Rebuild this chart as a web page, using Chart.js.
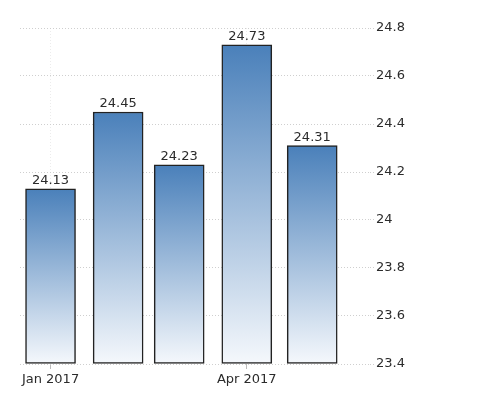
<!DOCTYPE html>
<html>
<head>
<meta charset="utf-8">
<script src="https://cdn.jsdelivr.net/npm/chart.js@4.4.1/dist/chart.umd.min.js"></script>
<style>
  html, body { margin: 0; padding: 0; background: #fff; }
  #wrap { width: 484px; height: 420px; }
</style>
</head>
<body>
<div id="wrap"><canvas id="chart"></canvas></div>
<script>
const months = ['2017-01-01', '2017-02-01', '2017-03-01', '2017-04-01', '2017-05-01'];
const values = [24.13, 24.45, 24.23, 24.73, 24.31];
const xTickDates = ['2017-01-01', '2017-04-01'];
const xTickLabels = ['Jan 2017', 'Apr 2017'];
const yTicks = [23.4, 23.6, 23.8, 24, 24.2, 24.4, 24.6, 24.8];

const FONT = "'DejaVu Sans', sans-serif";

// days since the first month, so bars sit on a real time spacing
function dayOf(s) {
  return (Date.parse(s) - Date.parse(months[0])) / 86400000;
}

const points = months.map((m, i) => ({ x: dayOf(m), y: values[i] }));

function barFill(ctx) {
  const chart = ctx.chart;
  const area = chart.chartArea;
  if (!area || ctx.type !== 'data') return '#4a80ba';
  const top = chart.scales.y.getPixelForValue(ctx.parsed.y);
  const g = chart.ctx.createLinearGradient(0, top, 0, area.bottom);
  g.addColorStop(0, '#4a80ba');
  g.addColorStop(1, '#f5f8fc');
  return g;
}

new Chart(document.getElementById('chart'), {
  type: 'bar',
  data: {
    datasets: [{
      data: points,
      base: yTicks[0],
      backgroundColor: barFill,
      borderColor: '#222',
      borderWidth: 1.5,
      borderSkipped: false,
      barThickness: 50,
      clip: false
    }]
  },
  options: {
    responsive: true,
    maintainAspectRatio: false,
    animation: false,
    layout: { padding: { top: 28, left: 20, right: 0, bottom: 0 } },
    plugins: {
      legend: { display: false },
      tooltip: { enabled: false }
    },
    scales: {
      x: {
        type: 'linear',
        offset: false,
        min: -14,
        max: 146.5,
        afterBuildTicks(scale) {
          scale.ticks = xTickDates.map(d => ({ value: dayOf(d) }));
        },
        afterFit(scale) { scale.height = 56; },
        grid: {
          offset: false,
          color: '#ececec',
          tickColor: '#bbb',
          tickLength: 5,
          tickBorderDash: []
        },
        border: { display: false, dash: [1, 2] },
        ticks: {
          padding: 3,
          color: '#2b2b2b',
          font: { family: FONT, size: 13 },
          maxRotation: 0,
          callback(v) {
            const i = xTickDates.findIndex(d => dayOf(d) === v);
            return i >= 0 ? xTickLabels[i] : '';
          }
        }
      },
      y: {
        position: 'right',
        min: yTicks[0],
        max: yTicks[yTicks.length - 1],
        afterBuildTicks(scale) {
          scale.ticks = yTicks.map(v => ({ value: v }));
        },
        afterFit(scale) { scale.width = 114; },
        grid: {
          color: '#cfcfcf',
          tickColor: '#cfcfcf',
          tickLength: 6,
          tickBorderDash: [1, 2]
        },
        border: { display: false, dash: [1, 2] },
        ticks: {
          padding: 0,
          color: '#2b2b2b',
          font: { family: FONT, size: 13 },
          callback(v) { return String(Number(v.toFixed(1))); }
        }
      }
    }
  },
  plugins: [{
    id: 'valueLabels',
    afterDatasetsDraw(chart) {
      const { ctx } = chart;
      ctx.save();
      ctx.font = "13px " + FONT;
      ctx.fillStyle = '#2b2b2b';
      ctx.textAlign = 'center';
      ctx.textBaseline = 'alphabetic';
      chart.getDatasetMeta(0).data.forEach((bar, i) => {
        ctx.fillText(values[i].toFixed(2), bar.x, bar.y - 5);
      });
      ctx.restore();
    }
  }]
});
</script>
</body>
</html>
